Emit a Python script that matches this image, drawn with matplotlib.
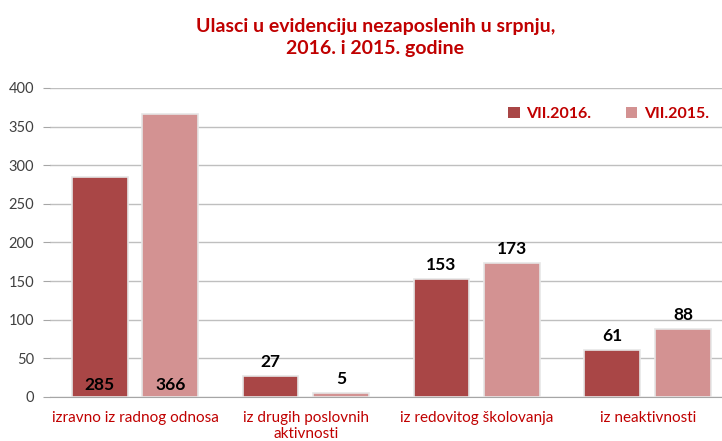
import numpy as np
import matplotlib
matplotlib.use("Agg")
from matplotlib import pyplot as plt

categories = ['izravno iz radnog odnosa', 'iz drugih poslovnih\naktivnosti',
              'iz redovitog školovanja', 'iz neaktivnosti']
vals_2016 = [285, 27, 153, 61]
vals_2015 = [366, 5, 173, 88]
series_names = ['VII.2016.', 'VII.2015.']

dark = '#A94646'
light = '#D39292'
red_txt = '#C00000'

plt.rcParams['font.family'] = ['Lato', 'DejaVu Sans']

fig = plt.figure(figsize=(7.22, 4.41), dpi=100)
ax = fig.add_axes([0.0686, 0.0998, 0.947, 0.7007])

x = np.arange(len(categories))
w = 0.327
off = 0.207
b1 = ax.bar(x - off, vals_2016, w, color=dark, edgecolor='#e6e6e6', linewidth=1.2, zorder=3)
b2 = ax.bar(x + off, vals_2015, w, color=light, edgecolor='#e6e6e6', linewidth=1.2, zorder=3)

# value labels: first group inside base, others above
for bars, vals in ((b1, vals_2016), (b2, vals_2015)):
    for i, (r, v) in enumerate(zip(bars, vals)):
        cx = r.get_x() + r.get_width() / 2
        y = 5 if i == 0 else v + 8
        ax.text(cx, y, str(v), ha='center', va='bottom', fontsize=12.5,
                fontweight='bold', color='black', zorder=4)

ax.set_xlim(-0.5, len(categories) - 0.5)
ax.set_ylim(0, 400)
ax.set_yticks(np.arange(0, 401, 50))
ax.yaxis.grid(True, color='#bfbfbf', linewidth=1, zorder=0)
ax.set_axisbelow(True)
for s in ['top', 'right', 'left']:
    ax.spines[s].set_visible(False)
ax.spines['bottom'].set_color('#a6a6a6')
ax.tick_params(axis='y', length=5, color='#a6a6a6', labelcolor='#404040',
               labelsize=10.5, pad=6)
ax.tick_params(axis='x', length=0, pad=10)
ax.set_xticks(x)
ax.set_xticklabels(categories, color=red_txt, fontsize=11)

leg = ax.legend([b1, b2], series_names, loc='upper right', bbox_to_anchor=(0.985, 0.985),
                ncol=2, frameon=False, handlelength=0.7, handleheight=0.7,
                columnspacing=2.2, handletextpad=0.4, fontsize=11.5)
for t in leg.get_texts():
    t.set_color(red_txt)
    t.set_fontweight('bold')
for h in leg.legend_handles:
    h.set_edgecolor('none')

fig.text(0.52, 0.96, 'Ulasci u evidenciju nezaposlenih u srpnju,\n2016. i 2015. godine',
         ha='center', va='top', fontsize=14, fontweight='bold', color=red_txt,
         linespacing=1.35)

fig.savefig('out.png', dpi=100)
